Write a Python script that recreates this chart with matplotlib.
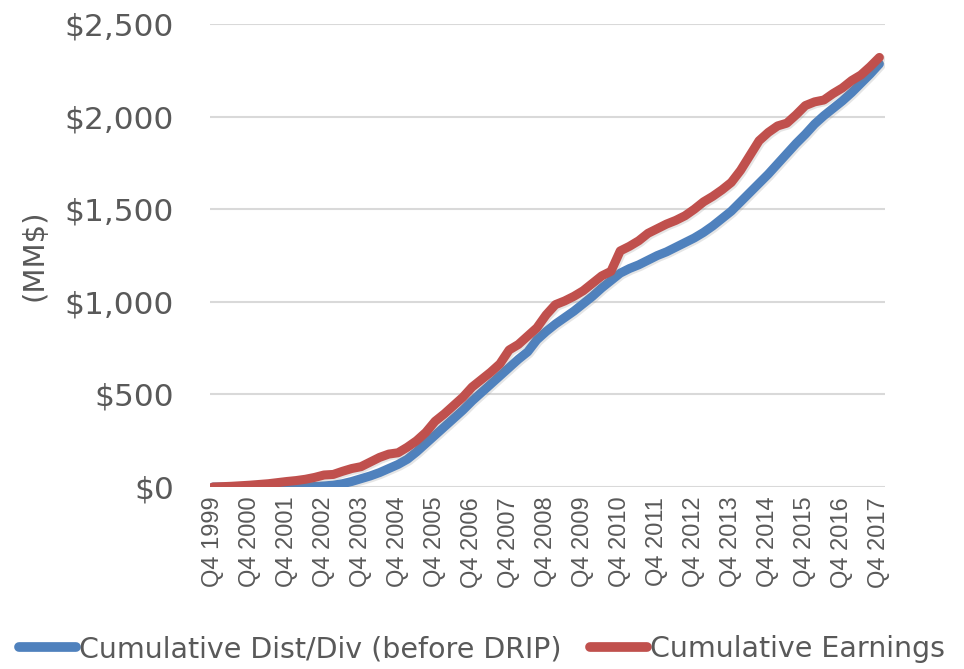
import matplotlib
matplotlib.use('Agg')
import matplotlib.pyplot as plt
import matplotlib.patheffects as pe
import numpy as np

# quarterly values, Q4 1999 .. Q4 2017 (MM$)
years = list(range(1999, 2018))
tick_labels = ['Q4 %d' % y for y in years]

dist_div = [0, 0, 0, 0, 0, 0, 0, 0, 0, 0,
            1, 3, 6, 10, 18, 30, 45, 60, 78, 100,
            122, 150, 190, 235, 280, 325, 370, 415, 465, 510,
            555, 600, 645, 690, 730, 795, 840, 880, 915, 950,
            990, 1030, 1075, 1115, 1155, 1180, 1200, 1225, 1250, 1270,
            1295, 1320, 1345, 1375, 1410, 1450, 1490, 1540, 1590, 1640,
            1690, 1745, 1800, 1855, 1905, 1960, 2005, 2045, 2085, 2130,
            2180, 2230, 2285]

earnings = [0, 2, 4, 7, 10, 14, 18, 24, 30, 35,
            42, 52, 65, 68, 85, 100, 110, 135, 160, 178,
            185, 215, 250, 295, 355, 395, 440, 485, 540, 580,
            620, 665, 740, 770, 815, 860, 930, 985, 1005, 1030,
            1060, 1100, 1140, 1165, 1275, 1300, 1330, 1370, 1395, 1420,
            1440, 1465, 1500, 1540, 1570, 1605, 1645, 1710, 1790, 1870,
            1915, 1950, 1965, 2010, 2060, 2080, 2090, 2125, 2155, 2195,
            2225, 2270, 2320]

blue = '#4F81BD'
red = '#C0504D'
grey_text = '#595959'

fig = plt.figure(figsize=(9.64, 6.69), dpi=100)
ax = fig.add_axes([0.218, 0.272, 0.700, 0.692])

x = np.arange(len(dist_div))
shadow = [pe.SimpleLineShadow(offset=(1.2, -1.2), shadow_color='#808080', alpha=0.2), pe.Normal()]

ax.plot(x, dist_div, color=blue, lw=6.5, solid_capstyle='round', solid_joinstyle='round',
        label='Cumulative Dist/Div (before DRIP)', path_effects=shadow, zorder=3)
ax.plot(x, earnings, color=red, lw=6.5, solid_capstyle='round', solid_joinstyle='round',
        label='Cumulative Earnings', path_effects=shadow, zorder=4)

ax.set_ylim(0, 2500)
ax.set_xlim(-0.3, 72.6)
ax.set_yticks(range(0, 2501, 500))
ax.set_yticklabels(['$0', '$500', '$1,000', '$1,500', '$2,000', '$2,500'],
                   fontsize=22.5, color=grey_text, family='DejaVu Sans')
ax.set_xticks(x[::4])
ax.set_xticklabels(tick_labels, rotation=90, fontsize=17, color=grey_text,
                   family='Liberation Sans')
ax.tick_params(axis='both', length=0)
ax.tick_params(axis='x', pad=7)
ax.tick_params(axis='y', pad=26)

ax.yaxis.grid(True, color='#D9D9D9', lw=1.5)
ax.set_axisbelow(True)
for s in ax.spines.values():
    s.set_visible(False)

ax.set_ylabel('(MM$)', fontsize=21, color=grey_text)
ax.yaxis.set_label_coords(-0.24, 0.5)

leg = fig.legend(loc='lower center', bbox_to_anchor=(0.5, -0.03), ncol=2, frameon=False,
                 fontsize=20.5, handlelength=2.0, handletextpad=0.1, columnspacing=1.0)
for t in leg.get_texts():
    t.set_color(grey_text)
for h in leg.get_lines():
    h.set_linewidth(7)
    h.set_path_effects([])

fig.savefig('out.png', dpi=100)
